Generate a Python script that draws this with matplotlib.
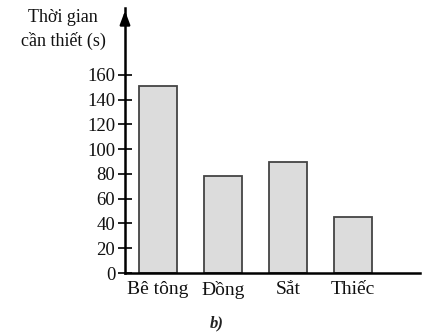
import matplotlib
matplotlib.use("Agg")
import matplotlib.pyplot as plt

categories = ["Bê tông", "Đồng", "Sắt", "Thiếc"]
values = [151, 78, 90, 45]
yticks = [0, 20, 40, 60, 80, 100, 120, 140, 160]

plt.rcParams['font.family'] = ['Liberation Serif', 'DejaVu Serif']

W, H = 422, 333
fig = plt.figure(figsize=(W/100, H/100), dpi=100)
ax = fig.add_axes([125/W, (H-273)/H, 295/W, 265/H])

x = list(range(len(categories)))
ax.bar(x, values, width=0.585, color='#dcdcdc', edgecolor='#444444', linewidth=1.3, zorder=2)
ax.set_xlim(-0.508, 4.03)
ax.set_ylim(0, 214)

for s in ['top', 'right']:
    ax.spines[s].set_visible(False)
for s in ['left', 'bottom']:
    ax.spines[s].set_linewidth(1.8)
    ax.spines[s].set_color('black')

ax.set_yticks(yticks)
ax.set_yticklabels([str(v) for v in yticks], fontsize=13.5, color='#111111')
ax.tick_params(axis='y', direction='inout', length=10, width=1.2, pad=2)
ax.set_xticks(x)
ax.set_xticklabels(categories, fontsize=14, color='#111111')
ax.tick_params(axis='x', length=0, pad=6)

# arrow at top of y axis
ax.annotate('', xy=(0, 1.0), xycoords='axes fraction', xytext=(0, 0.93),
            arrowprops=dict(arrowstyle='-|>,head_width=0.3,head_length=0.8', color='black', lw=1.8),
            annotation_clip=False)

fig.text(63/W, 1 - 18/H, "Thời gian", ha='center', va='center', fontsize=13, color='#111111')
fig.text(63/W, 1 - 41/H, "cần thiết (s)", ha='center', va='center', fontsize=13, color='#111111')
fig.text(217/W, 1 - 323/H, "b)", ha='center', va='center', fontsize=12, style='italic', fontweight='bold', color='#222222')

fig.savefig("out.png", dpi=100)
